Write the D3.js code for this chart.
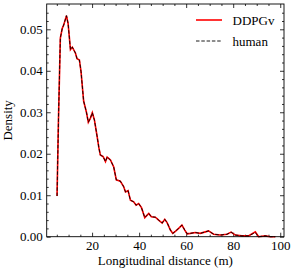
<!DOCTYPE html>
<html lang="en">
<head>
    <meta charset="utf-8">
    <style>
     body { margin: 0; background-color: white; }
     svg {
        background-color: white;
        font-family: 'Liberation Serif', 'DejaVu Serif', serif;
     }
     .label { font-size: 13px; fill: black; }
    </style>
</head>
<body>
<div id="my_dataviz"></div>
<script src="https://d3js.org/d3.v7.min.js"></script>
<script>

// data
var distance = [5.1, 5.7, 6.5, 7.3, 7.9, 9.1, 9.8, 10.8, 11.6, 12.9, 13.6, 14.6, 15.3,
  16.4, 17.6, 18.4, 19.3, 20.1, 21.0, 22.1, 22.9, 23.5, 24.7, 25.7, 26.4, 27.8,
  29.2, 30.3, 32.0, 33.4, 34.2, 35.3, 36.3, 37.7, 38.7, 39.8, 41.0, 42.4, 43.4,
  44.1, 45.2, 46.9, 48.3, 49.8, 50.9, 51.9, 53.3, 54.3, 55.4, 56.8, 58.2, 59.4,
  60.4, 61.8, 63.9, 66.0, 67.8, 69.5, 71.7, 74.5, 77.4, 79.1, 80.9, 83.7, 86.5,
  89.4, 90.8, 93.6, 95.8, 97.9];

var densityDDPGv = [0.0098, 0.0281, 0.0479, 0.0502, 0.0510, 0.0533, 0.0514, 0.0451, 0.0457,
  0.0443, 0.0429, 0.0426, 0.0398, 0.0327, 0.0300, 0.0276, 0.0286, 0.0299, 0.0281,
  0.0243, 0.0214, 0.0197, 0.0193, 0.0181, 0.0192, 0.0185, 0.0168, 0.0137, 0.0134,
  0.0121, 0.0108, 0.0111, 0.0088, 0.0084, 0.0076, 0.0080, 0.0070, 0.0046, 0.0052,
  0.0056, 0.0048, 0.0047, 0.0040, 0.0033, 0.0042, 0.0034, 0.0016, 0.0008, 0.0013,
  0.0020, 0.0028, 0.0016, 0.0007, 0.0008, 0.0010, 0.0008, 0.0011, 0.0014, 0.0006,
  0.0004, 0.0006, 0.0011, 0.0004, 0.0002, 0.0002, 0.0012, 0.0000, 0.0002, 0.0000, 0.0000];

var densityHuman = [0.0098, 0.0281, 0.0479, 0.0502, 0.0510, 0.0533, 0.0514, 0.0451, 0.0457,
  0.0443, 0.0429, 0.0426, 0.0398, 0.0327, 0.0300, 0.0276, 0.0286, 0.0299, 0.0281,
  0.0243, 0.0214, 0.0197, 0.0193, 0.0181, 0.0192, 0.0185, 0.0168, 0.0137, 0.0134,
  0.0121, 0.0108, 0.0111, 0.0088, 0.0084, 0.0076, 0.0080, 0.0070, 0.0046, 0.0052,
  0.0056, 0.0048, 0.0047, 0.0040, 0.0033, 0.0042, 0.0034, 0.0016, 0.0008, 0.0013,
  0.0020, 0.0028, 0.0016, 0.0007, 0.0008, 0.0010, 0.0008, 0.0011, 0.0014, 0.0006,
  0.0004, 0.0006, 0.0011, 0.0004, 0.0002, 0.0002, 0.0010, 0.0000, 0.0002, 0.0000, 0.0000];

var xTicks = [20, 40, 60, 80, 100];
var yTicks = [0.00, 0.01, 0.02, 0.03, 0.04, 0.05];
var seriesNames = ["DDPGv", "human"];

// set the dimensions and margins of the graph
var margin = {top: 4, right: 10, bottom: 36.3, left: 46.7};
var width = 294 - margin.left - margin.right;
var height = 273 - margin.top - margin.bottom;

var svg = d3.select("#my_dataviz")
  .append("svg")
    .attr("width", 294)
    .attr("height", 273)
  .append("g")
    .attr("transform", "translate(" + margin.left + "," + margin.top + ")");

var x = d3.scaleLinear().domain([0.7, 101.6]).range([0, width]);
var y = d3.scaleLinear().domain([0, 0.0561]).range([height, 0]);

// minor ticks
var xMinor = d3.range(5, 101, 5).filter(function(v) { return v % 20 != 0; });
var yMinor = d3.range(0, 0.056, 0.002).filter(function(v) { return Math.round(v * 1000) % 10 != 0; });

// axes, ticks pointing inward on all four sides
function styleAxis(g) {
  g.select(".domain").remove();
  g.selectAll("line").attr("stroke", "black").attr("stroke-width", 0.8);
  g.selectAll("text")
    .attr("fill", "black")
    .style("font-size", "13px")
    .style("font-family", "'Liberation Serif', serif");
}
svg.append("g")
  .attr("transform", "translate(0," + height + ")")
  .call(d3.axisBottom(x).tickValues(xTicks).tickSizeInner(-4).tickSizeOuter(0).tickPadding(4))
  .call(styleAxis);
svg.append("g")
  .attr("transform", "translate(0," + height + ")")
  .call(d3.axisBottom(x).tickValues(xMinor).tickSize(-2).tickFormat(""))
  .call(styleAxis);
svg.append("g")
  .call(d3.axisTop(x).tickValues(xTicks).tickSize(-4).tickFormat(""))
  .call(styleAxis);
svg.append("g")
  .call(d3.axisTop(x).tickValues(xMinor).tickSize(-2).tickFormat(""))
  .call(styleAxis);

svg.append("g")
  .call(d3.axisLeft(y).tickValues(yTicks).tickSizeInner(-4).tickSizeOuter(0).tickPadding(4).tickFormat(d3.format(".2f")))
  .call(styleAxis);
svg.append("g")
  .call(d3.axisLeft(y).tickValues(yMinor).tickSize(-2).tickFormat(""))
  .call(styleAxis);
svg.append("g")
  .attr("transform", "translate(" + width + ",0)")
  .call(d3.axisRight(y).tickValues(yTicks).tickSize(-4).tickFormat(""))
  .call(styleAxis);
svg.append("g")
  .attr("transform", "translate(" + width + ",0)")
  .call(d3.axisRight(y).tickValues(yMinor).tickSize(-2).tickFormat(""))
  .call(styleAxis);

// curves
var line = d3.line()
  .x(function(d) { return x(d[0]); })
  .y(function(d) { return y(d[1]); });

svg.append("path")
  .datum(d3.zip(distance, densityDDPGv))
  .attr("fill", "none")
  .attr("stroke", "#ff0000")
  .attr("stroke-width", 1.6)
  .attr("d", line);

svg.append("path")
  .datum(d3.zip(distance, densityHuman))
  .attr("fill", "none")
  .attr("stroke", "black")
  .attr("stroke-width", 0.9)
  .attr("stroke-dasharray", "3.5,1.8")
  .attr("d", line);

// frame
svg.append("rect")
  .attr("width", width)
  .attr("height", height)
  .attr("fill", "none")
  .attr("stroke", "black")
  .attr("stroke-width", 0.9);

// legend
var legend = svg.append("g").attr("transform", "translate(" + (width - 88) + ",16)");
seriesNames.forEach(function(name, i) {
  legend.append("line")
    .attr("x1", 0).attr("x2", 26)
    .attr("y1", i * 21).attr("y2", i * 21)
    .attr("stroke", i == 0 ? "#ff0000" : "black")
    .attr("stroke-width", i == 0 ? 1.6 : 0.9)
    .attr("stroke-dasharray", i == 0 ? null : "3.5,1.8");
  legend.append("text")
    .attr("class", "label")
    .attr("x", 36.5)
    .attr("y", i * 21 + 4.5)
    .text(name);
});

// axis labels
svg.append("text")
  .attr("class", "label")
  .attr("x", width / 2)
  .attr("y", height + 28)
  .attr("text-anchor", "middle")
  .text("Longitudinal distance (m)");

svg.append("text")
  .attr("class", "label")
  .attr("transform", "translate(" + (-34.5) + "," + (height / 2) + ")rotate(-90)")
  .attr("text-anchor", "middle")
  .text("Density");

</script>
</body>
</html>
